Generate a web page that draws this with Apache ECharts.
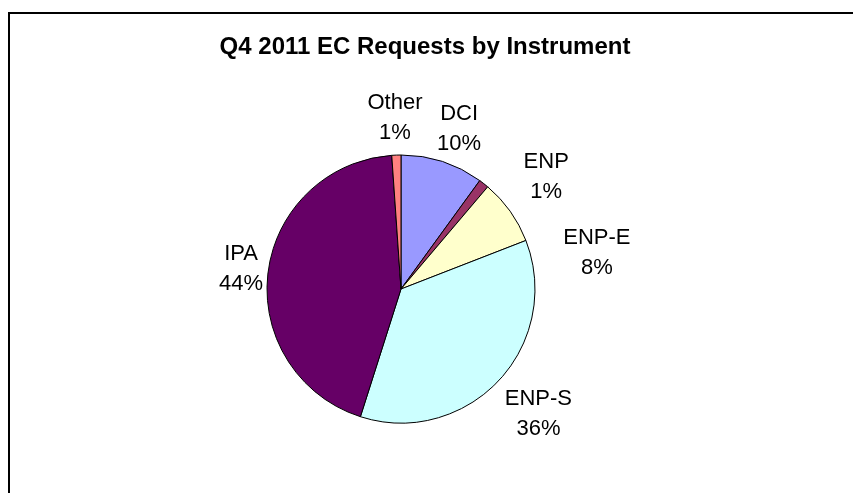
<!DOCTYPE html>
<html>
<head>
<meta charset="utf-8">
<script src="https://cdn.jsdelivr.net/npm/echarts@6/dist/echarts.min.js"></script>
<style>
    html, body { margin: 0; padding: 0; background: #fff; }
    #chart { width: 853px; height: 493px; }
</style>
</head>
<body>
<div id="chart"></div>
<script>
var instruments = ['DCI', 'ENP', 'ENP-E', 'ENP-S', 'IPA', 'Other'];
var requestShare = [10.0, 1.2, 7.9, 35.8, 44.0, 1.1];
var colorList = ['#9999FF', '#993366', '#FFFFCC', '#CCFFFF', '#660066', '#FF8080'];

var chartTitle = 'Q4 2011 EC Requests by Instrument';

// Excel "best fit" moved some labels off the slice mid-line, nudge them the same way
var labelNudge = {
    'DCI': [13, -21],
    'ENP': [55, 3],
    'ENP-E': [77, 49],
    'ENP-S': [31, 25],
    'IPA': [-15, -3],
    'Other': [-1, -25]
};

function buildPieData() {
    var data = [];
    for (var i = 0; i < instruments.length; i++) {
        data.push({ name: instruments[i], value: requestShare[i] });
    }
    return data;
}

var myChart = echarts.init(document.getElementById('chart'));

var option = {
    animation: false,
    color: colorList,
    title: {
        text: chartTitle,
        left: 420,
        textAlign: 'center',
        top: 30,
        textStyle: {
            fontFamily: 'Liberation Sans, Arial, sans-serif',
            fontWeight: 'bold',
            fontSize: 24,
            color: '#000'
        }
    },
    graphic: [
        {
            type: 'rect',
            shape: { x: 9, y: 13, width: 900, height: 600 },
            style: { fill: 'none', stroke: '#000', lineWidth: 2 },
            silent: true
        }
    ],
    series: [
        {
            type: 'pie',
            center: [401, 289],
            radius: ['0%', 134],
            startAngle: 90,
            clockwise: true,
            avoidLabelOverlap: false,
            itemStyle: {
                borderColor: '#000',
                borderWidth: 1
            },
            label: {
                show: true,
                position: 'outside',
                distanceToLabelLine: 0,
                formatter: function (p) {
                    return p.name + '\n' + Math.round(p.percent) + '%';
                },
                fontFamily: 'Liberation Sans, Arial, sans-serif',
                fontSize: 22,
                lineHeight: 30,
                color: '#000'
            },
            labelLine: {
                show: false,
                length: 12,
                length2: 0
            },
            labelLayout: function (params) {
                var n = labelNudge[instruments[params.dataIndex]] || [0, 0];
                return { align: 'center', dx: n[0], dy: n[1] };
            },
            emphasis: { disabled: true },
            data: buildPieData()
        }
    ]
};

myChart.setOption(option);
</script>
</body>
</html>
